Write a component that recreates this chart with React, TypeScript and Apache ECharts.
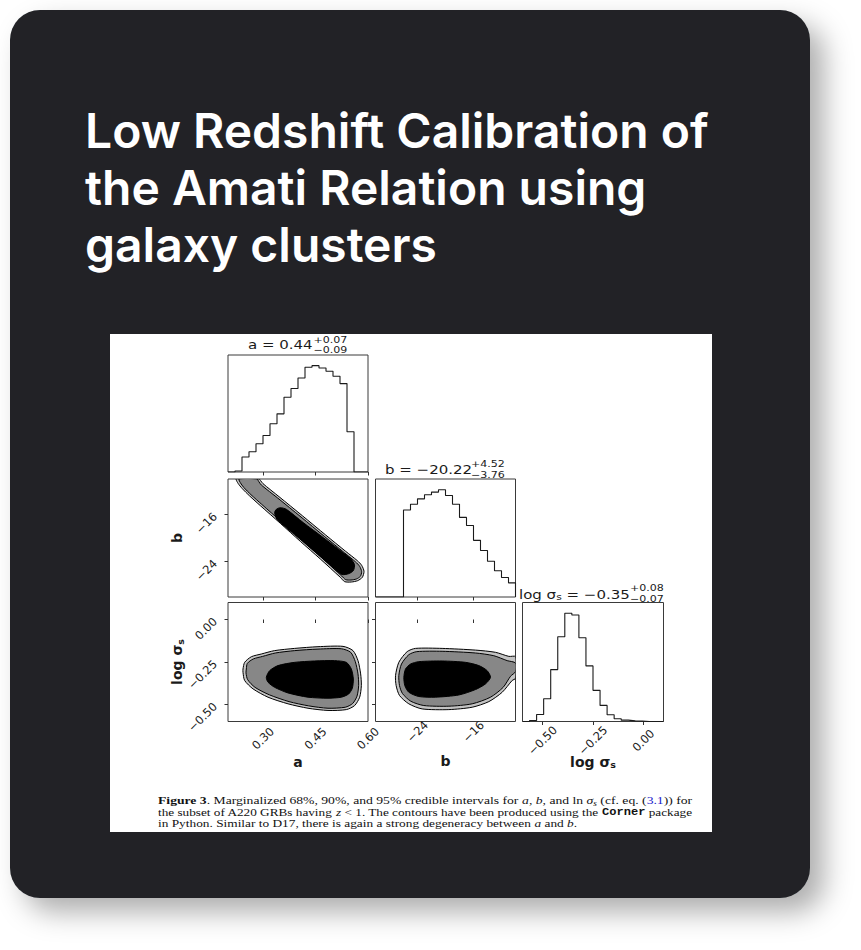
import React, { useEffect, useRef } from "react";
import * as echarts from "echarts";

// ---------- axis ranges and ticks ----------
const aRange = [0.2, 0.6];
const bRange = [-30, -10];
const sRange = [-0.6, 0.1];
const aTicks = [0.3, 0.45, 0.6];
const bTicks = [-24, -16];
const sTicks = [-0.5, -0.25, 0];

// ---------- 1D marginal histograms (20 bins each, arbitrary counts) ----------
const aHist = [0, 3, 45, 61, 85, 110, 145, 175, 225, 251, 283, 315, 320, 313, 303, 288, 266, 121, 0, 0];
const bHist = [0, 0, 0, 0, 258, 275, 291, 303, 311, 318, 301, 275, 236, 212, 168, 138, 106, 78, 58, 42];
const sHist = [0, 3, 21, 68, 155, 253, 323, 318, 250, 166, 93, 48, 20, 8, 4, 2, 1, 0, 0, 0];

// ---------- 2D credible contours [x, y] ----------
// a vs b
const abOuter = [[0.2238,-10],[0.2886,-10],[0.2933,-10.28],[0.3,-10.79],[0.3457,-12.99],[0.4124,-16.22],[0.479,-19.49],[0.5362,-22.26],[0.5695,-23.84],[0.5819,-24.63],[0.5886,-25.65],[0.5838,-26.67],[0.5705,-27.23],[0.5524,-27.46],[0.5333,-27.4],[0.521,-26.67],[0.4638,-23.56],[0.4067,-20.57],[0.3495,-17.51],[0.2924,-14.52],[0.2619,-12.88],[0.24,-11.58],[0.2286,-10.73]];
const abMid = [[0.2314,-10],[0.2829,-10],[0.2876,-10.4],[0.2952,-11.02],[0.3419,-13.22],[0.4086,-16.44],[0.4752,-19.72],[0.5324,-22.49],[0.5648,-24.07],[0.5762,-24.8],[0.5819,-25.71],[0.5781,-26.5],[0.5667,-26.95],[0.5514,-27.12],[0.5362,-27.06],[0.5248,-26.44],[0.4676,-23.33],[0.4105,-20.34],[0.3533,-17.29],[0.2962,-14.29],[0.2657,-12.66],[0.2448,-11.41],[0.2352,-10.62]];
const abInner = [[0.3333,-15.71],[0.3381,-15.14],[0.3495,-14.86],[0.3667,-15.14],[0.4147,-17.38],[0.4719,-19.92],[0.5243,-22.29],[0.55,-23.48],[0.5614,-24.5],[0.5581,-25.54],[0.5448,-26.05],[0.5253,-26.19],[0.5043,-25.23],[0.4615,-23.03],[0.4138,-20.6],[0.3662,-18.23],[0.3396,-16.81]];
// a vs log sigma
const asOuter = [[0.2429,-0.291],[0.2476,-0.252],[0.2667,-0.219],[0.2952,-0.203],[0.3333,-0.183],[0.3905,-0.17],[0.4571,-0.16],[0.5286,-0.158],[0.5571,-0.183],[0.5714,-0.242],[0.579,-0.32],[0.581,-0.389],[0.5762,-0.457],[0.5619,-0.506],[0.5381,-0.53],[0.4857,-0.535],[0.4286,-0.522],[0.3714,-0.496],[0.3143,-0.457],[0.2714,-0.408],[0.2476,-0.359],[0.2429,-0.311]];
const asMid = [[0.2524,-0.291],[0.2552,-0.258],[0.2724,-0.232],[0.299,-0.217],[0.3352,-0.197],[0.3905,-0.183],[0.4571,-0.174],[0.5238,-0.172],[0.5505,-0.193],[0.5638,-0.248],[0.5714,-0.32],[0.5733,-0.389],[0.5686,-0.451],[0.5562,-0.494],[0.5352,-0.516],[0.4857,-0.522],[0.4305,-0.508],[0.3743,-0.483],[0.3181,-0.443],[0.2771,-0.399],[0.2562,-0.354],[0.2514,-0.314]];
const asInner = [[0.3095,-0.34],[0.319,-0.301],[0.3429,-0.271],[0.3905,-0.252],[0.4476,-0.244],[0.5048,-0.242],[0.5381,-0.252],[0.5524,-0.291],[0.5581,-0.35],[0.5552,-0.404],[0.5448,-0.438],[0.5238,-0.457],[0.4857,-0.463],[0.4286,-0.457],[0.3714,-0.432],[0.3333,-0.399],[0.3143,-0.369]];
// b vs log sigma
const bsOuter = [[-27.14,-0.33],[-26.67,-0.252],[-25.48,-0.189],[-24.29,-0.17],[-20.48,-0.17],[-15.71,-0.18],[-12.86,-0.193],[-10.95,-0.217],[-10,-0.219],[-10,-0.346],[-10.48,-0.359],[-11.9,-0.428],[-13.81,-0.483],[-16.19,-0.516],[-19.52,-0.53],[-23.33,-0.526],[-25.24,-0.496],[-26.57,-0.447],[-27.05,-0.389]];
const bsMid = [[-26.67,-0.33],[-26.29,-0.262],[-25.24,-0.207],[-24.1,-0.189],[-20.48,-0.187],[-15.71,-0.197],[-13.1,-0.213],[-11.19,-0.242],[-10,-0.256],[-10,-0.307],[-10.71,-0.334],[-11.76,-0.399],[-13.57,-0.457],[-16.19,-0.496],[-19.52,-0.51],[-23.1,-0.506],[-24.95,-0.481],[-26.14,-0.436],[-26.57,-0.389]];
const bsInner = [[-25.95,-0.34],[-25.71,-0.291],[-25.0,-0.262],[-23.81,-0.248],[-20.48,-0.244],[-17.14,-0.252],[-15.24,-0.271],[-14.05,-0.301],[-13.57,-0.34],[-14.29,-0.379],[-15.71,-0.412],[-18.1,-0.444],[-21.43,-0.457],[-23.81,-0.453],[-25.24,-0.428],[-25.81,-0.389]];

// ---------- texts ----------
const titleLines = ["Low Redshift Calibration of", "the Amati Relation using", "galaxy clusters"];
const aTitle = ["a = 0.44", "+0.07", "\u22120.09"];
const bTitle = ["b = \u221220.22", "+4.52", "\u22123.76"];
const sTitle = ["\u22120.35", "+0.08", "\u22120.07"];
const captionLines: [string, string][][] = [
  [["b", "Figure 3"], ["r", ". Marginalized 68%, 90%, and 95% credible intervals for "], ["i", "a"], ["r", ", "], ["i", "b"], ["r", ", and ln "], ["i", "\u03c3"], ["sub", "s"], ["r", " (cf. eq. ("], ["blue", "3.1"], ["r", ")) for"]],
  [["r", "the subset of A220 GRBs having "], ["i", "z"], ["r", " < 1. The contours have been produced using the "], ["tt", "Corner"], ["r", " package"]],
  [["r", "in Python. Similar to D17, there is again a strong degeneracy between "], ["i", "a"], ["r", " and "], ["i", "b"], ["r", "."]],
];

const contourFills = ["#c3c3c3", "#878787", "#000000"];
const INK = "#1a1a1a";

function stepData(counts: number[], range: number[]) {
  const n = counts.length;
  const w = (range[1] - range[0]) / n;
  const pts: number[][] = [[range[0], 0]];
  counts.forEach((c, i) => {
    pts.push([range[0] + i * w, c]);
    pts.push([range[0] + (i + 1) * w, c]);
  });
  pts.push([range[1], 0]);
  return pts;
}

const fmt2 = (v: number) => (v < -1e-9 ? "\u2212" : "") + Math.abs(v).toFixed(2);
const fmt0 = (v: number) => (v < -1e-9 ? "\u2212" : "") + Math.abs(v).toFixed(0);

const tickLine = { color: "#333", width: 1 };
const labelStyle = { fontFamily: "DejaVu Sans", fontSize: 11.5, color: INK };
const nameStyle = { fontFamily: "DejaVu Sans", fontSize: 14, fontWeight: "bold", color: INK };

function xAxisDef(gridIndex: number, range: number[], ticks: number[], fmt: (v: number) => string, label: boolean, name?: string, margin = 17, nameGap = 40) {
  return {
    type: "value",
    gridIndex,
    min: range[0],
    max: range[1],
    splitLine: { show: false },
    axisLine: { show: false },
    axisTick: { show: true, inside: false, length: 3.5, lineStyle: tickLine, customValues: ticks },
    axisLabel: {
      show: label,
      customValues: ticks,
      formatter: fmt,
      rotate: 45,
      align: "center",
      verticalAlign: "middle",
      margin,
      hideOverlap: false,
      showMinLabel: true,
      showMaxLabel: true,
      ...labelStyle,
    },
    name: name || "",
    nameLocation: "middle",
    nameGap,
    nameMoveOverlap: false,
    nameTextStyle: {
      ...nameStyle,
      align: "center",
      verticalAlign: "middle",
      rich: {
        n: { ...nameStyle, lineHeight: 16 },
        s: { ...nameStyle, fontSize: 9.5, lineHeight: 16, verticalAlign: "bottom" },
      },
    },
  };
}

function yAxisDef(gridIndex: number, range: number[] | null, ticks: number[], fmt: (v: number) => string, label: boolean, name?: string) {
  const hist = range === null;
  return {
    type: "value",
    gridIndex,
    min: hist ? 0 : range![0],
    max: hist ? (e: any) => e.max * 1.1 : range![1],
    splitLine: { show: false },
    axisLine: { show: false },
    axisTick: { show: !hist, inside: false, length: 3.5, lineStyle: tickLine, customValues: ticks },
    axisLabel: {
      show: label,
      customValues: ticks,
      formatter: fmt,
      rotate: 45,
      align: "right",
      verticalAlign: "middle",
      margin: 13,
      hideOverlap: false,
      showMinLabel: true,
      showMaxLabel: true,
      ...labelStyle,
    },
    name: name || "",
    nameLocation: "middle",
    nameGap: 51,
    nameRotate: 90,
    nameMoveOverlap: false,
    nameTextStyle: {
      ...nameStyle,
      align: "center",
      verticalAlign: "middle",
      rich: {
        n: { ...nameStyle, lineHeight: 16 },
        s: { ...nameStyle, fontSize: 9.5, lineHeight: 16, verticalAlign: "bottom" },
      },
    },
  };
}

function histSeries(idx: number, counts: number[], range: number[]) {
  return {
    type: "line",
    xAxisIndex: idx,
    yAxisIndex: idx,
    data: stepData(counts, range),
    showSymbol: false,
    symbol: "none",
    silent: true,
    lineStyle: { color: INK, width: 1.1 },
  };
}

function contourSeries(idx: number, polys: number[][][]) {
  return {
    type: "custom",
    coordinateSystem: "cartesian2d",
    xAxisIndex: idx,
    yAxisIndex: idx,
    silent: true,
    clip: true,
    encode: { x: 0, y: 1 },
    data: polys.map((p) => p[0]),
    renderItem: (params: any, api: any) => {
      const poly = polys[params.dataIndex];
      const cs = params.coordSys;
      return {
        type: "polygon",
        shape: { points: poly.map((pt) => api.coord(pt)), smooth: 0.25 },
        style: { fill: contourFills[params.dataIndex], stroke: "#000", lineWidth: 1 },
        clipPath: { type: "rect", shape: { x: cs.x, y: cs.y, width: cs.width, height: cs.height } },
      };
    },
  };
}

const capFs = 11;
const capStyles: Record<string, any> = {
  r: { fontFamily: "Liberation Serif", fontSize: capFs, fill: "#111", lineHeight: 13 },
  b: { fontFamily: "Liberation Serif", fontSize: capFs, fontWeight: "bold", fill: "#111", lineHeight: 13 },
  i: { fontFamily: "Liberation Serif", fontSize: capFs, fontStyle: "italic", fill: "#111", lineHeight: 13 },
  sub: { fontFamily: "Liberation Serif", fontSize: 7.5, fontStyle: "italic", fill: "#111", lineHeight: 13, verticalAlign: "bottom" },
  blue: { fontFamily: "Liberation Serif", fontSize: capFs, fill: "#1a1acc", lineHeight: 13 },
  tt: { fontFamily: "Liberation Mono", fontSize: 10, fontWeight: "bold", fill: "#111", lineHeight: 13 },
};

function cssFont(s: any) {
  return `${s.fontStyle || "normal"} ${s.fontWeight || "normal"} ${s.fontSize}px "${s.fontFamily}"`;
}

function measureLine(frags: [string, string][]) {
  const ctx = document.createElement("canvas").getContext("2d")!;
  let w = 0;
  frags.forEach(([k, t]) => {
    ctx.font = cssFont(capStyles[k]);
    w += ctx.measureText(t).width;
  });
  return w;
}

function buildOption() {
  const capTargets = [534, 534, 419];
  const capY = [800.5, 812, 823.5];
  const captionEls = captionLines.map((frags, li) => {
    const w = measureLine(frags);
    return {
      type: "text",
      x: 158,
      y: capY[li],
      scaleX: capTargets[li] / w,
      z: 5,
      style: {
        text: frags.map(([k, t]) => `{${k}|${t}}`).join(""),
        rich: capStyles,
        align: "left",
        verticalAlign: "middle",
        textAlign: "left",
        textVerticalAlign: "middle",
      },
    };
  });

  const ht = (x: number, y: number, text: string, size: number, extra: any = {}) => ({
    type: "text",
    x,
    y,
    scaleX: 1.2,
    z: 5,
    style: {
      text,
      fontFamily: "DejaVu Sans",
      fontSize: size,
      fill: INK,
      align: "left",
      verticalAlign: "middle",
      textAlign: "left",
      textVerticalAlign: "middle",
      ...extra,
    },
  });

  const titleEls = titleLines.map((t, i) => ({
    type: "text",
    x: 85,
    y: 130 + i * 57,
    z: 5,
    style: {
      text: t,
      fontFamily: "Inter",
      fontSize: 48,
      fontWeight: 600,
      fill: "#ffffff",
      align: "left",
      verticalAlign: "middle",
      textAlign: "left",
      textVerticalAlign: "middle",
    },
  }));

  const grids = [
    { left: 228, top: 355, width: 140, height: 117 },
    { left: 228, top: 479, width: 140, height: 118 },
    { left: 375.5, top: 479, width: 140, height: 118 },
    { left: 228, top: 602.5, width: 140, height: 119 },
    { left: 375.5, top: 602.5, width: 140, height: 119 },
    { left: 522.5, top: 602.5, width: 141, height: 119 },
  ].map((g) => ({
    ...g,
    show: true,
    borderColor: "#3a3a3a",
    borderWidth: 1,
    backgroundColor: "transparent",
    containLabel: false,
    outerBoundsMode: "none",
  }));

  return {
    animation: false,
    backgroundColor: "#ffffff",
    textStyle: { fontFamily: "DejaVu Sans" },
    graphic: {
      elements: [
        {
          type: "rect",
          z: -20,
          shape: { x: 10, y: 10, width: 800, height: 888, r: 30 },
          style: {
            fill: "#212428",
            shadowBlur: 28,
            shadowOffsetX: 14,
            shadowOffsetY: 14,
            shadowColor: "rgba(0,0,0,0.32)",
          },
        },
        {
          type: "rect",
          z: -10,
          shape: { x: 110, y: 334, width: 602, height: 498 },
          style: { fill: "#ffffff" },
        },
        ...titleEls,
        ht(248, 344.7, aTitle[0], 12.5),
        ht(313.5, 339.6, aTitle[1], 9.2),
        ht(313.5, 350.2, aTitle[2], 9.2),
        ht(385, 469, bTitle[0], 12.5),
        ht(471, 463.9, bTitle[1], 9.2),
        ht(471, 474.5, bTitle[2], 9.2),
        ht(519, 594, `{m|log \u03c3}{s|s}{m| = ${sTitle[0]}}`, 12.5, {
          rich: {
            m: { fontFamily: "DejaVu Sans", fontSize: 12.5, fill: INK, lineHeight: 15 },
            s: { fontFamily: "DejaVu Sans", fontSize: 9, fill: INK, lineHeight: 15, verticalAlign: "bottom" },
          },
        }),
        ht(630, 588.3, sTitle[1], 9.2),
        ht(630, 598.4, sTitle[2], 9.2),
        ...captionEls,
      ],
    },
    grid: grids,
    xAxis: [
      xAxisDef(0, aRange, aTicks, fmt2, false),
      xAxisDef(1, aRange, aTicks, fmt2, false),
      xAxisDef(2, bRange, bTicks, fmt0, false),
      xAxisDef(3, aRange, aTicks, fmt2, true, "a", 17, 40),
      xAxisDef(4, bRange, bTicks, fmt0, true, "b", 10, 39),
      xAxisDef(5, sRange, sTicks, fmt2, true, "{n|log \u03c3}{s|s}", 19, 40),
    ],
    yAxis: [
      yAxisDef(0, null, [], fmt2, false),
      yAxisDef(1, bRange, bTicks, fmt0, true, "b"),
      yAxisDef(2, null, [], fmt2, false),
      yAxisDef(3, sRange, sTicks, fmt2, true, "{n|log \u03c3}{s|s}"),
      yAxisDef(4, sRange, sTicks, fmt2, false),
      yAxisDef(5, null, [], fmt2, false),
    ],
    series: [
      histSeries(0, aHist, aRange),
      histSeries(2, bHist, bRange),
      histSeries(5, sHist, sRange),
      contourSeries(1, [abOuter, abMid, abInner]),
      contourSeries(3, [asOuter, asMid, asInner]),
      contourSeries(4, [bsOuter, bsMid, bsInner]),
    ],
  };
}

export default function App() {
  const ref = useRef<HTMLDivElement>(null);
  useEffect(() => {
    if (!ref.current) return;
    const chart = echarts.init(ref.current, null, { renderer: "svg", width: 861, height: 950 });
    chart.setOption(buildOption() as any);
    return () => chart.dispose();
  }, []);
  return (
    <div
      ref={ref}
      style={{ position: "fixed", left: 0, top: 0, width: 861, height: 950, background: "#ffffff" }}
    />
  );
}
